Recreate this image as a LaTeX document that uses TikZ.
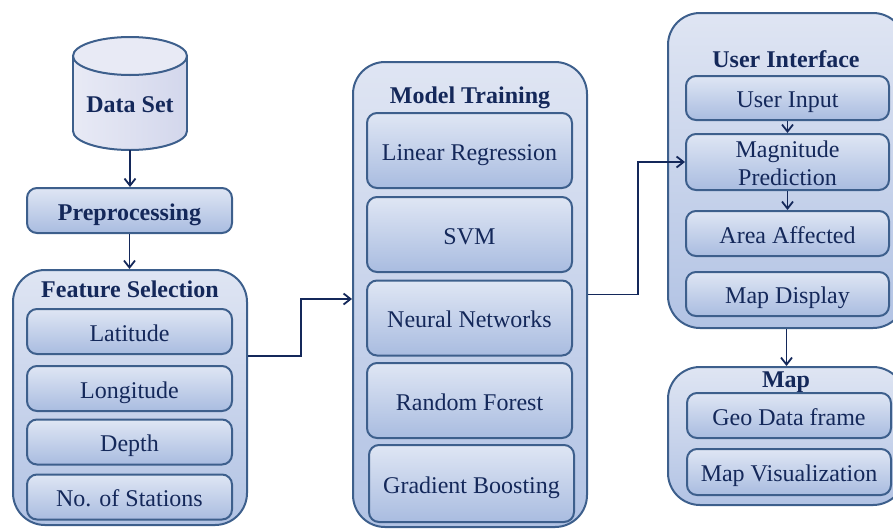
\documentclass[tikz,border=0pt]{standalone}
\usepackage{fontspec}
\setmainfont{Liberation Serif}
\usetikzlibrary{positioning, arrows.meta}

\definecolor{navy}{HTML}{14285A}
\definecolor{rim}{HTML}{3D5F8C}
\definecolor{boxtop}{HTML}{DFE6F4}
\definecolor{boxbot}{HTML}{A9BCE0}
\definecolor{grptop}{HTML}{DFE5F3}
\definecolor{grpbot}{HTML}{B2C3E4}
\definecolor{cylleft}{HTML}{E8EAF5}
\definecolor{cylright}{HTML}{D3D7EC}

\begin{document}
\begin{tikzpicture}[x=1pt, y=-1pt,
	every node/.style={font=\fontsize{24}{28}\selectfont, text=navy},
	panel/.style={draw=rim, line width=2pt, rounded corners=32pt, top color=grptop, bottom color=grpbot},
	entry/.style={draw=rim, line width=2pt, rounded corners=10pt, top color=boxtop, bottom color=boxbot,
		minimum width=205pt, minimum height=45pt, inner sep=0pt, text height=20pt, text depth=1pt, align=center},
	heading/.style={font=\fontsize{24}{28}\selectfont\bfseries, anchor=base},
	>={Straight Barb[length=7pt,width=11pt]},
	link/.style={->, draw=navy, line width=1.8pt}]
	\path[use as bounding box] (0,0) rectangle (893,528);
	\clip (0,0) rectangle (893,528);

	% data set cylinder
	\fill[left color=cylleft, right color=cylright] (73,56) rectangle (187,131);
	\begin{scope}
		\clip (70,131) rectangle (190,155);
		\fill[left color=cylleft, right color=cylright] (130,131) ellipse [x radius=57pt, y radius=19pt];
		\draw[rim, line width=2pt] (130,131) ellipse [x radius=57pt, y radius=19pt];
	\end{scope}
	\draw[rim, line width=2pt] (73,56) -- (73,131) (187,56) -- (187,131);
	\filldraw[draw=rim, fill=cylleft, line width=2pt] (130,56) ellipse [x radius=57pt, y radius=19pt];
	\node[heading] (ds) at (130,112) {Data Set};
	\coordinate (dsb) at (130,150);

	\node[entry, font=\fontsize{24}{28}\selectfont\bfseries] (pre) at (129.5,210.5) {Preprocessing};

	% groups
	\node[panel, minimum width=234pt, minimum height=255pt] (fs) at (130,397.5) {};
	\node[panel, minimum width=234pt, minimum height=465pt] (mt) at (470,294.5) {};
	\node[panel, minimum width=237pt, minimum height=315pt] (ui) at (786.5,170.5) {};
	\node[panel, minimum width=237pt, minimum height=138pt] (map) at (786.5,436) {};

	\node[heading] (fst) at (130,297) {Feature Selection};
	\node[heading] (mtt) at (470,103) {Model Training};
	\node[heading] (uit) at (786,67) {User Interface};
	\node[heading] (mapt) at (786,387) {Map};

	% feature selection
	\node[entry] (lat) at (129.5,331.5) {Latitude};
	\node[entry] (lon) at (129.5,388.5) {Longitude};
	\node[entry] (dep) at (129.5,442) {Depth};
	\node[entry] (sta) at (129.5,497) {No. of Stations};

	% model training
	\node[entry, minimum height=75pt] (lr) at (469.5,150.5) {Linear Regression};
	\node[entry, minimum height=75pt] (svm) at (469.5,234.5) {SVM};
	\node[entry, minimum height=75pt] (nn) at (469.5,318) {Neural Networks};
	\node[entry, minimum height=75pt] (rf) at (469.5,400.5) {Random Forest};
	\node[entry, minimum height=77pt] (gb) at (471.5,483.5) {Gradient Boosting};

	% user interface
	\node[entry, minimum width=203pt, minimum height=44pt] (uin) at (787.5,98) {User Input};
	\node[entry, minimum width=203pt, minimum height=56pt, text height=48pt] (mag) at (787.5,162) {Magnitude\\Prediction};
	\node[entry, minimum width=203pt] (aa) at (787.5,233.5) {Area Affected};
	\node[entry, minimum width=203pt, minimum height=44pt] (md) at (787.5,294) {Map Display};

	% map
	\node[entry, minimum width=204pt] (geo) at (789,415.5) {Geo Data frame};
	\node[entry, minimum width=204pt, minimum height=46pt] (viz) at (789,472) {Map Visualization};

	% connectors
	\draw[link] (dsb) -- (dsb |- pre.north);
	\draw[link] (pre.south) -- (pre.south |- fs.north);
	\draw[link] ([yshift=41.5pt]fs.east) -- ++(53pt,0pt) |- ([yshift=-4.5pt]mt.west);
	\draw[link] (mt.east) -- ++(50pt,0pt) |- (mag.west);
	\draw[link] (uin) -- (mag);
	\draw[link] (mag) -- (aa);
	\draw[link] (ui.south) -- (map.north);
\end{tikzpicture}
\end{document}
